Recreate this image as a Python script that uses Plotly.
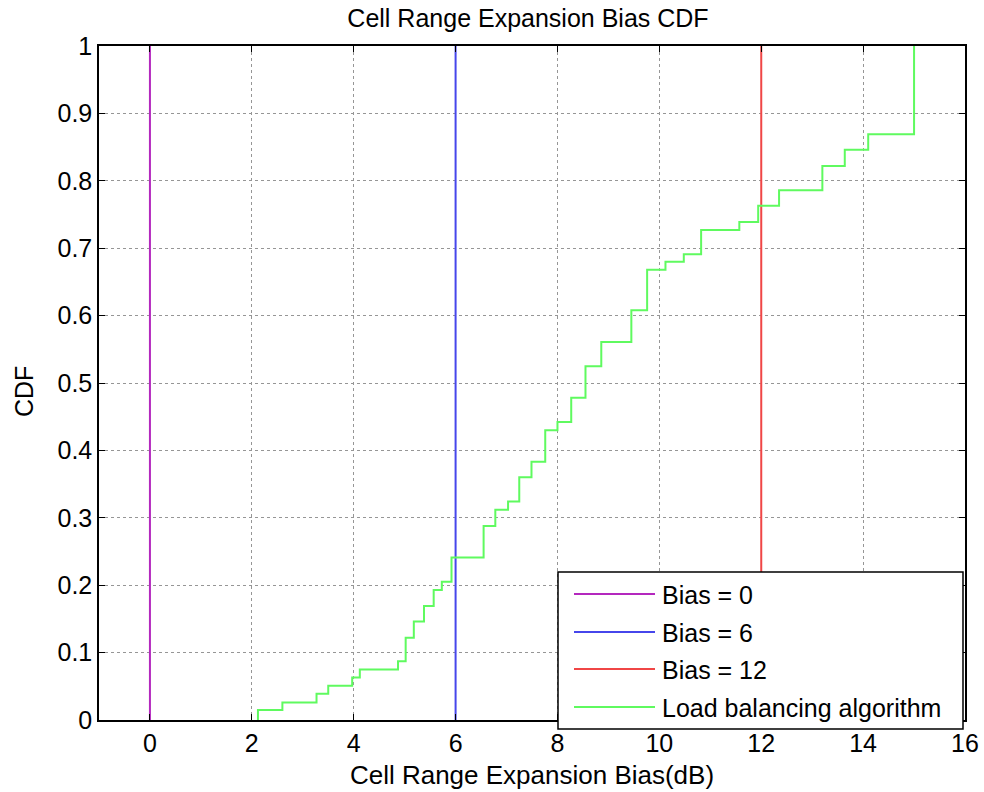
import plotly.graph_objects as go

# ---------------- data ----------------
bias_values = [0, 6, 12]
bias_names = ["Bias = 0", "Bias = 6", "Bias = 12"]
bias_cdf = [0, 1]

lb_name = "Load balancing algorithm"
lb_x = [2.12, 2.12, 2.60, 3.27, 3.50, 3.97, 4.12, 4.87, 5.02, 5.18, 5.38, 5.57,
        5.73, 5.92, 6.55, 6.78, 7.03, 7.25, 7.49, 7.76, 8.00, 8.27, 8.55, 8.86,
        9.45, 9.76, 10.12, 10.48, 10.82, 11.57, 11.94, 12.35, 13.20, 13.64,
        14.10, 15.00]
lb_cdf = [0, 0.015, 0.026, 0.039, 0.051, 0.063, 0.075, 0.087, 0.122, 0.146,
          0.169, 0.193, 0.205, 0.241, 0.288, 0.312, 0.324, 0.360, 0.383, 0.430,
          0.442, 0.478, 0.525, 0.561, 0.608, 0.668, 0.680, 0.691, 0.727, 0.739,
          0.763, 0.786, 0.822, 0.846, 0.869, 1.0]

x_ticks = [0, 2, 4, 6, 8, 10, 12, 14, 16]
y_ticks = [0, 0.1, 0.2, 0.3, 0.4, 0.5, 0.6, 0.7, 0.8, 0.9, 1]
y_tick_labels = ["0", "0.1", "0.2", "0.3", "0.4", "0.5", "0.6", "0.7", "0.8", "0.9", "1"]

# ---------------- style ----------------
W, H = 984, 792
L, R, T, B = 99, 965, 46, 720
FONT = "Arial, Liberation Sans, sans-serif"
bias_colors = ["rgb(180,40,190)", "rgb(70,70,235)", "rgb(240,70,70)"]
lb_color = "rgb(95,250,95)"


def px(xp):
    return (xp - L) / (R - L)


def py(yp):
    return (B - yp) / (B - T)


fig = go.Figure()
for v, name, col in zip(bias_values, bias_names, bias_colors):
    fig.add_trace(go.Scatter(x=[v, v], y=bias_cdf, mode="lines", name=name,
                             line=dict(color=col, width=2), showlegend=False))
fig.add_trace(go.Scatter(x=lb_x, y=lb_cdf, mode="lines", name=lb_name,
                         line=dict(color=lb_color, width=2, shape="hv"),
                         showlegend=False))

# manual legend (MATLAB style)
shapes = [dict(type="rect", xref="paper", yref="paper",
               x0=px(558), x1=px(963), y0=py(729), y1=py(572),
               line=dict(color="black", width=1.5), fillcolor="white", layer="above")]
annotations = []
row_y = [594, 632, 669, 707]
for i, (name, col) in enumerate(zip(bias_names + [lb_name], bias_colors + [lb_color])):
    shapes.append(dict(type="line", xref="paper", yref="paper",
                       x0=px(574), x1=px(655), y0=py(row_y[i]), y1=py(row_y[i]),
                       line=dict(color=col, width=2), layer="above"))
    annotations.append(dict(xref="paper", yref="paper", x=px(660), y=py(row_y[i] + 1),
                            text=name, showarrow=False, xanchor="left", yanchor="middle",
                            font=dict(family=FONT, size=25, color="black")))

# y-axis title placed like the MATLAB original
annotations.append(dict(xref="paper", yref="paper", x=px(24), y=py(392), text="CDF",
                        textangle=-90, showarrow=False, xanchor="center", yanchor="middle",
                        font=dict(family=FONT, size=25, color="black")))

fig.update_layout(
    width=W, height=H,
    margin=dict(l=L, r=W - R, t=T, b=H - B, autoexpand=False),
    paper_bgcolor="white", plot_bgcolor="white",
    font=dict(family=FONT, size=25, color="black"),
    title=dict(text="Cell Range Expansion Bias CDF", x=528 / W, xanchor="center",
               y=1 - 18 / H, yanchor="middle", yref="container",
               font=dict(family=FONT, size=25, color="black")),
    showlegend=False,
    shapes=shapes,
    annotations=annotations,
    xaxis=dict(range=[-1, 16], tickvals=x_ticks, ticks="inside", ticklen=6,
               tickcolor="black", showline=True, linecolor="black", linewidth=1.5,
               mirror="ticks", showgrid=True, gridcolor="rgb(150,150,150)",
               griddash="dot", gridwidth=1, zeroline=False, automargin=False,
               tickfont=dict(size=25),
               title=dict(text="Cell Range Expansion Bias(dB)", standoff=10,
                          font=dict(size=26))),
    yaxis=dict(range=[0, 1], tickvals=y_ticks, ticktext=y_tick_labels, ticks="inside",
               ticklen=6, tickcolor="black", showline=True, linecolor="black",
               linewidth=1.5, mirror="ticks", showgrid=True,
               gridcolor="rgb(150,150,150)", griddash="dot", gridwidth=1,
               zeroline=False, automargin=False, tickfont=dict(size=25)),
)

fig.write_html("out.html")
